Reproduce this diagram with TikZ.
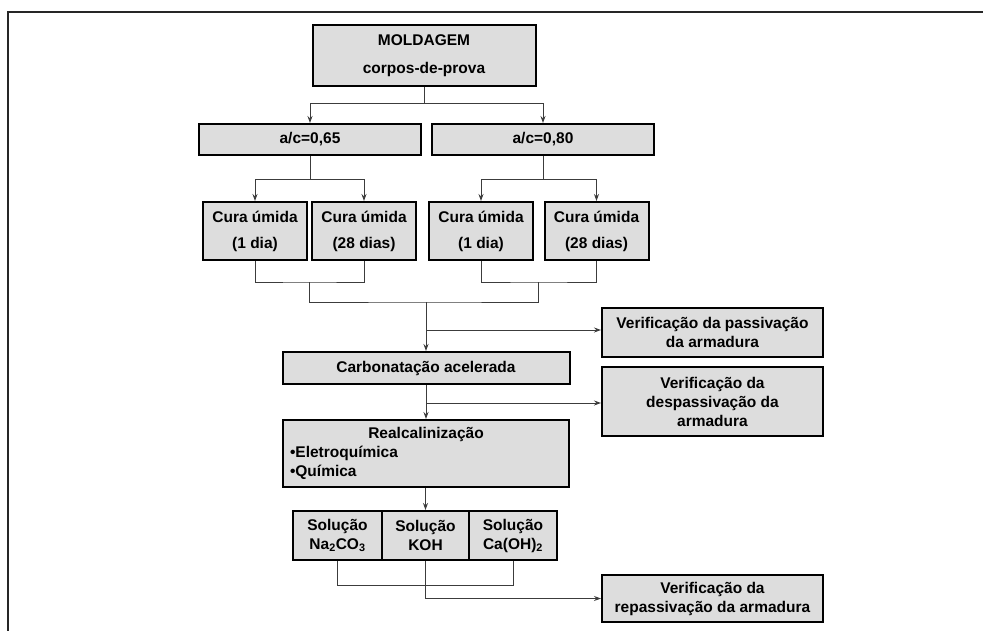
\documentclass[tikz,border=0pt]{standalone}
\usepackage{fontspec}
\setmainfont{Liberation Sans}
\usetikzlibrary{arrows.meta}
\definecolor{cinza}{RGB}{221,221,221}
\definecolor{linha}{RGB}{60,60,60}
\tikzset{
  etapa/.style={draw, line width=2pt, fill=cinza, inner sep=0pt, align=center,
    font=\bfseries\fontsize{15.5}{19}\selectfont},
  ligacao/.style={line width=1pt, draw=linha},
  seta/.style={ligacao, -{Stealth[length=7pt,width=5pt]}}
}

\begin{document}
\begin{tikzpicture}[x=1pt, y=-1pt]
  \useasboundingbox (0,0) rectangle (983,630);
  \draw[line width=2pt, black!85] (8,640) -- (8,12) -- (990,12);

  % moldagem e relacao a/c
  \node[etapa, minimum width=223pt, minimum height=61pt] (mold) at (424,55.5) {MOLDAGEM\\[9pt]corpos-de-prova};
  \node[etapa, minimum width=222pt, minimum height=31pt] (ac65) at (310,139.5) {a/c=0,65};
  \node[etapa, minimum width=222pt, minimum height=31pt] (ac80) at (543,139.5) {a/c=0,80};
  \coordinate (j0) at (424,103);
  \draw[ligacao] (mold.south) -- (j0);
  \draw[seta] (j0) -| (ac65);
  \draw[seta] (j0) -| (ac80);

  % cura
  \node[etapa, minimum width=104pt, minimum height=58pt] (cura65a) at (255,231) {Cura úmida\\[7pt](1 dia)};
  \node[etapa, minimum width=104pt, minimum height=58pt] (cura65b) at (364,231) {Cura úmida\\[7pt](28 dias)};
  \node[etapa, minimum width=104pt, minimum height=58pt] (cura80a) at (481,231) {Cura úmida\\[7pt](1 dia)};
  \node[etapa, minimum width=104pt, minimum height=58pt] (cura80b) at (596.5,231) {Cura úmida\\[7pt](28 dias)};
  \coordinate (j65) at (310,179);
  \coordinate (j80) at (543,179);
  \draw[ligacao] (ac65) -- (j65);
  \draw[ligacao] (ac80) -- (j80);
  \draw[seta] (j65) -| (cura65a);
  \draw[seta] (j65) -| (cura65b);
  \draw[seta] (j80) -| (cura80a);
  \draw[seta] (j80) -| (cura80b);

  \coordinate (b65) at (309.5,282);
  \coordinate (b80) at (538.75,282);
  \coordinate (b0) at (426,302);
  \draw[ligacao] (cura65a.south) |- (b65) -| (cura65b.south);
  \draw[ligacao] (cura80a.south) |- (b80) -| (cura80b.south);
  \draw[ligacao] (b65) |- (b0) -| (b80);

  % carbonatacao e realcalinizacao
  \node[etapa, minimum width=287pt, minimum height=32pt] (carb) at (426,368) {Carbonatação acelerada};
  \node[etapa, minimum width=221pt, minimum height=49pt] (verPass) at (712.5,332.5) {Verificação da passivação\\da armadura};
  \node[etapa, minimum width=221pt, minimum height=69pt] (verDesp) at (712.5,401.5) {Verificação da\\despassivação da\\armadura};
  \node[etapa, minimum width=286pt, minimum height=67pt, text width=272pt, align=left] (realc) at (426,453.5)
    {\makebox[272pt]{Realcalinização}\\•Eletroquímica\\•Química};
  \coordinate (p1) at (426,330);
  \coordinate (p2) at (426,403);
  \draw[seta] (b0) -- (carb);
  \draw[seta] (p1) -- (p1 -| verPass.west);
  \draw[seta] (carb) -- (realc);
  \draw[seta] (p2) -- (p2 -| verDesp.west);

  % solucoes
  \node[etapa, minimum width=89pt, minimum height=49pt] (solNa) at (337.5,535.5) {Solução\\Na\textsubscript{2}CO\textsubscript{3}};
  \node[etapa, minimum width=87pt, minimum height=49pt] (solK) at (425.5,535.5) {Solução\\KOH};
  \node[etapa, minimum width=88pt, minimum height=49pt] (solCa) at (513,535.5) {Solução\\Ca(OH)\textsubscript{2}};
  \node[etapa, minimum width=221pt, minimum height=47pt] (verRep) at (712.5,598.5) {Verificação da\\repassivação da armadura};
  \coordinate (s0) at (426,585);
  \draw[seta] (realc.south -| solK.north) -- (solK);
  \draw[ligacao] (solNa.south) |- (s0) -| (solCa.south);
  \draw[seta] (solK.south) |- (verRep.west);
\end{tikzpicture}
\end{document}
